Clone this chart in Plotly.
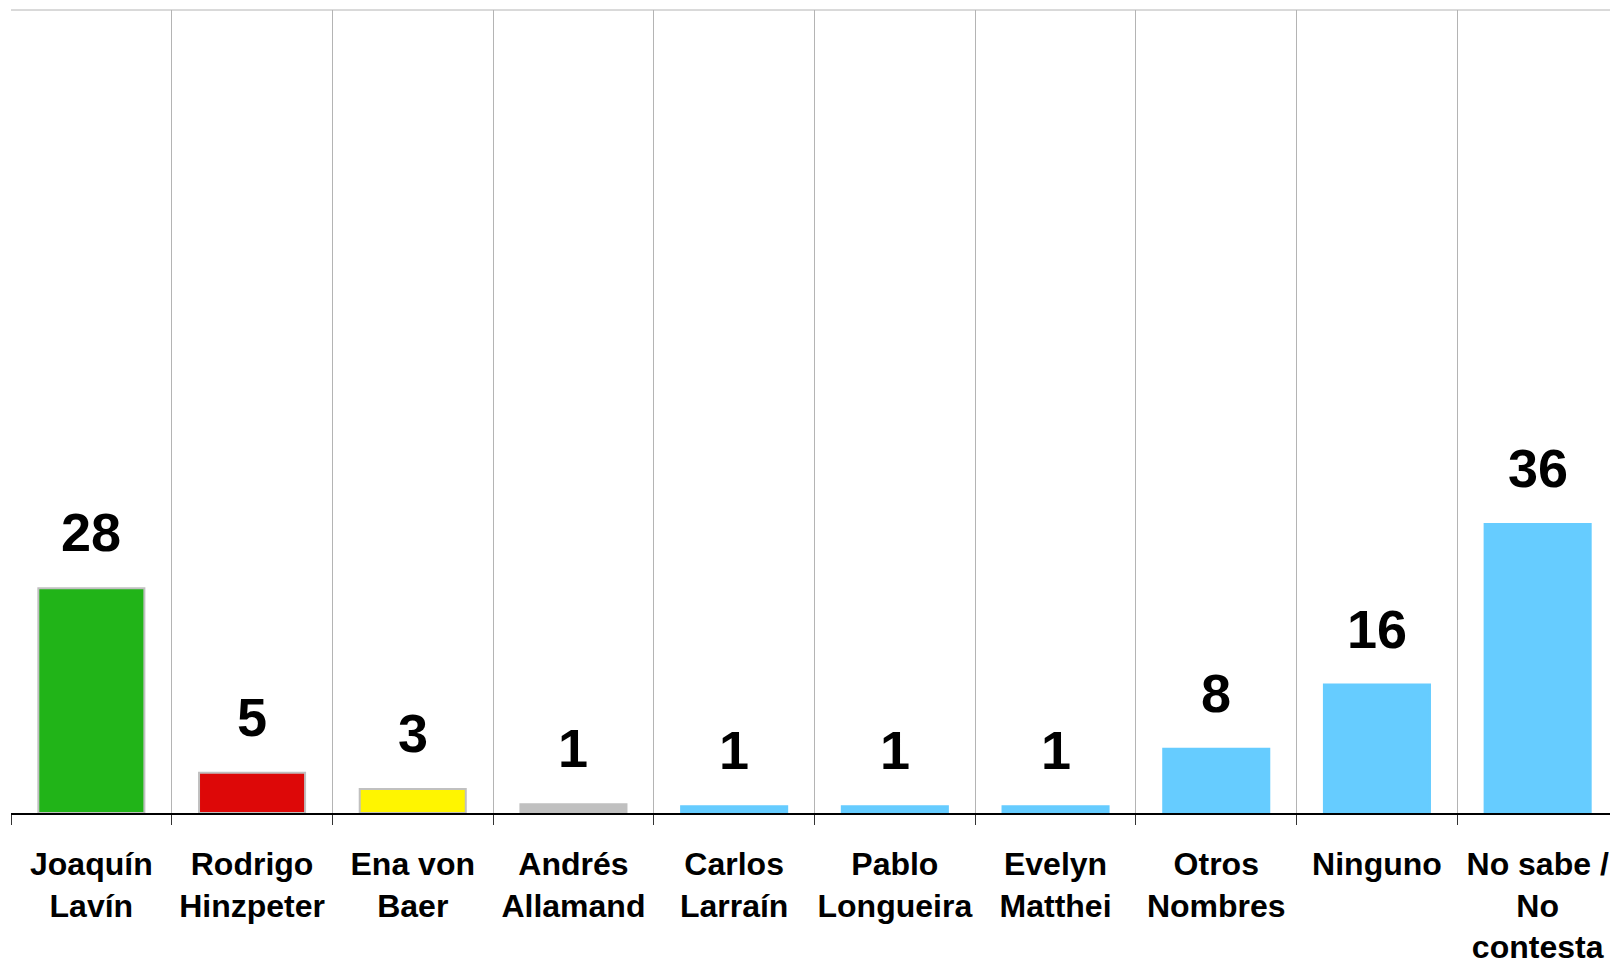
import plotly.graph_objects as go

categories = ["Joaquín<br>Lavín", "Rodrigo<br>Hinzpeter", "Ena von<br>Baer", "Andrés<br>Allamand",
              "Carlos<br>Larraín", "Pablo<br>Longueira", "Evelyn<br>Matthei", "Otros<br>Nombres",
              "Ninguno", "No sabe /<br>No<br>contesta"]
values = [28, 5, 3, 1.1, 0.85, 0.85, 0.85, 8, 16, 36]
labels = ["28", "5", "3", "1", "1", "1", "1", "8", "16", "36"]
colors = ["#21b418", "#dd0808", "#fff500", "#c0c0c0", "#66ccff", "#66ccff",
          "#66ccff", "#66ccff", "#66ccff", "#66ccff"]
edge_colors = ["#c0c0c0", "#c0c0c0", "#c0c0c0", "#c0c0c0", "#66ccff", "#66ccff",
               "#66ccff", "#66ccff", "#66ccff", "#66ccff"]

fig = go.Figure()
fig.add_trace(go.Bar(
    x=categories, y=values,
    marker=dict(color=colors, line=dict(color=edge_colors, width=2)),
    width=0.66, hoverinfo="skip",
))

for c, v, t in zip(categories, values, labels):
    fig.add_annotation(x=c, y=v, text=t, showarrow=False, yanchor="bottom", yshift=24,
                       font=dict(family="Liberation Sans, Arial", size=54, color="black",
                                 weight="bold"))

fig.add_shape(type="line", xref="paper", yref="paper", x0=0, x1=1, y0=1, y1=1,
              line=dict(color="#b4b4b4", width=1))

fig.update_layout(
    width=1610, height=954,
    margin=dict(l=3, r=0, t=2, b=149, autoexpand=False),
    paper_bgcolor="white", plot_bgcolor="white",
    showlegend=False,
    font=dict(family="Liberation Sans, Arial", color="black"),
    xaxis=dict(
        type="category", range=[-0.5, 9.5], automargin=False, tickangle=0,
        tickson="boundaries", showgrid=True, gridcolor="#b4b4b4", gridwidth=1,
        ticks="outside", ticklen=10, tickcolor="#333333", tickwidth=1,
        showline=True, linecolor="black", linewidth=1.5,
        tickfont=dict(family="Liberation Sans, Arial", size=32, color="black", weight="bold"),
        ticklabelstandoff=22,
    ),
    yaxis=dict(range=[0, 100], showgrid=False, showticklabels=False, zeroline=False,
               showline=False, automargin=False),
)

fig.write_html("out.html")
